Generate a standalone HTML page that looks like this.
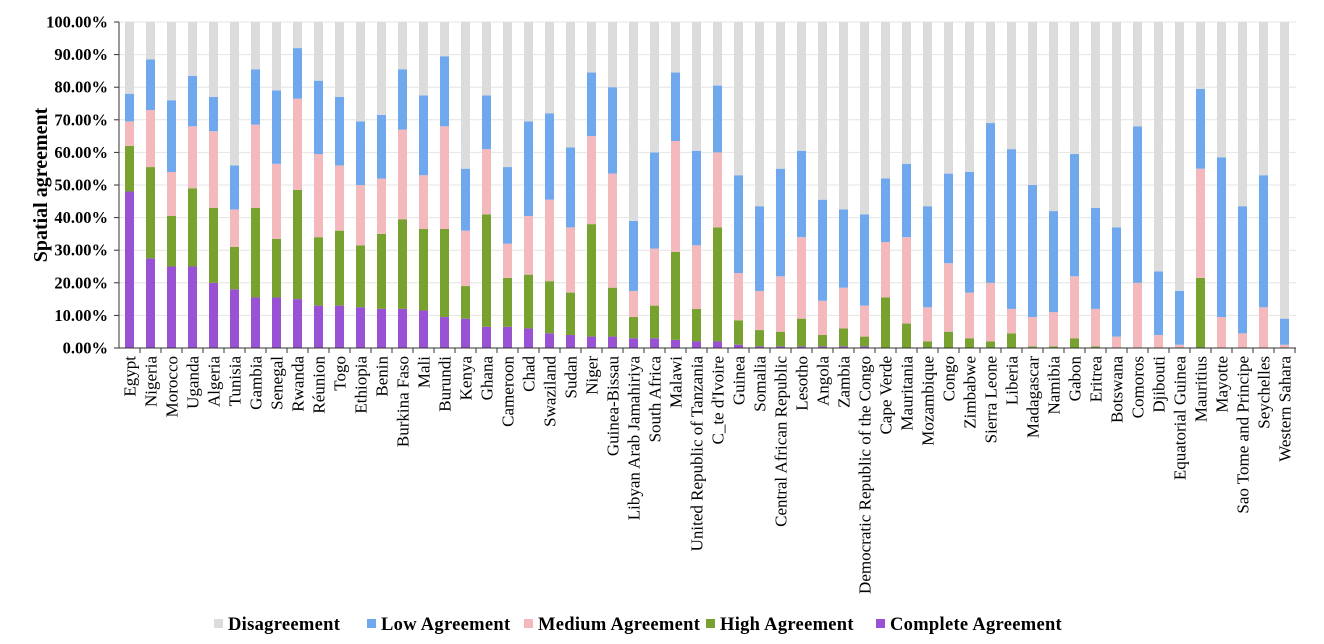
<!DOCTYPE html><html><head><style>body{margin:0;background:#fff}svg{display:block}</style></head><body>
<svg id="s" width="1324" height="644" xmlns="http://www.w3.org/2000/svg" font-family="Liberation Serif, serif"></svg>
<script>
const d=[["Egypt",48,62,69.5,78],["Nigeria",27.5,55.5,73,88.5],["Morocco",25,40.5,54,76],["Uganda",25,49,68,83.5],["Algeria",20,43,66.5,77],["Tunisia",18,31,42.5,56],["Gambia",15.5,43,68.5,85.5],["Senegal",15.5,33.5,56.5,79],["Rwanda",15,48.5,76.5,92],["Réunion",13,34,59.5,82],["Togo",13,36,56,77],["Ethiopia",12.5,31.5,50,69.5],["Benin",12,35,52,71.5],["Burkina Faso",12,39.5,67,85.5],["Mali",11.5,36.5,53,77.5],["Burundi",9.5,36.5,68,89.5],["Kenya",9,19,36,55],["Ghana",6.5,41,61,77.5],["Cameroon",6.5,21.5,32,55.5],["Chad",6,22.5,40.5,69.5],["Swaziland",4.5,20.5,45.5,72],["Sudan",4,17,37,61.5],["Niger",3.5,38,65,84.5],["Guinea-Bissau",3.5,18.5,53.5,80],["Libyan Arab Jamahiriya",3,9.5,17.5,39],["South Africa",3,13,30.5,60],["Malawi",2.5,29.5,63.5,84.5],["United Republic of Tanzania",2,12,31.5,60.5],["C_te d'Ivoire",2,37,60,80.5],["Guinea",1,8.5,23,53],["Somalia",0.5,5.5,17.5,43.5],["Central African Republic",0.5,5,22,55],["Lesotho",0.5,9,34,60.5],["Angola",0.5,4,14.5,45.5],["Zambia",0.5,6,18.5,42.5],["Democratic Republic of the Congo",0.5,3.5,13,41],["Cape Verde",0,15.5,32.5,52],["Mauritania",0,7.5,34,56.5],["Mozambique",0,2,12.5,43.5],["Congo",0,5,26,53.5],["Zimbabwe",0,3,17,54],["Sierra Leone",0,2,20,69],["Liberia",0,4.5,12,61],["Madagascar",0,0.5,9.5,50],["Namibia",0,0.5,11,42],["Gabon",0,3,22,59.5],["Eritrea",0,0.5,12,43],["Botswana",0,0,3.5,37],["Comoros",0,0,20,68],["Djibouti",0,0,4,23.5],["Equatorial Guinea",0,0,1,17.5],["Mauritius",0,21.5,55,79.5],["Mayotte",0,0,9.5,58.5],["Sao Tome and Principe",0,0,4.5,43.5],["Seychelles",0,0,12.5,53],["Western Sahara",0,0,1,9]];
const C=["#9a52d4","#77a22f","#f3b9bd","#6fa8ec","#dcdcdc"];
const X0=119,W=21,Y0=348,H=326,y=v=>Y0-v*H/100;
let s="";
for(let i=0;i<=10;i++){const yy=y(i*10);s+=`<line x1="${X0}" x2="1296" y1="${yy}" y2="${yy}" stroke="#e4e4e4"/><line x1="114" x2="${X0}" y1="${yy}" y2="${yy}" stroke="#333"/><text x="108" y="${yy+5.5}" text-anchor="end" font-size="16.5" font-weight="bold">${(i*10).toFixed(2)}%</text>`}
d.forEach((r,i)=>{const cx=X0+W*i+W/2,bx=cx-4.5;const v=[0,r[1],r[2],r[3],r[4],100];
for(let k=0;k<5;k++){if(v[k+1]>v[k])s+=`<rect x="${bx}" width="9" y="${y(v[k+1])}" height="${y(v[k])-y(v[k+1])}" fill="${C[k]}"/>`}
s+=`<line x1="${X0+W*(i+1)}" x2="${X0+W*(i+1)}" y1="${Y0}" y2="${Y0+5}" stroke="#333"/>`;
s+=`<text transform="translate(${cx+6},356) rotate(-90)" text-anchor="end" font-size="17">${r[0].replace(/'/g,"&#39;")}</text>`});
s+=`<line x1="${X0}" x2="${X0}" y1="22" y2="${Y0}" stroke="#333"/><line x1="${X0}" x2="1296" y1="${Y0}" y2="${Y0}" stroke="#333"/>`;
s+=`<text transform="translate(47,185) rotate(-90)" text-anchor="middle" font-size="20" font-weight="bold">Spatial agreement</text>`;
const L=[["Disagreement",214,4],["Low Agreement",367,3],["Medium Agreement",524,2],["High Agreement",706,1],["Complete Agreement",876,0]];
L.forEach(l=>{s+=`<rect x="${l[1]}" y="619" width="9" height="9" fill="${C[l[2]]}"/><text x="${l[1]+14}" y="630" font-size="18.5" font-weight="bold" letter-spacing="0.3">${l[0]}</text>`});
document.getElementById("s").innerHTML=s;
</script></body></html>
